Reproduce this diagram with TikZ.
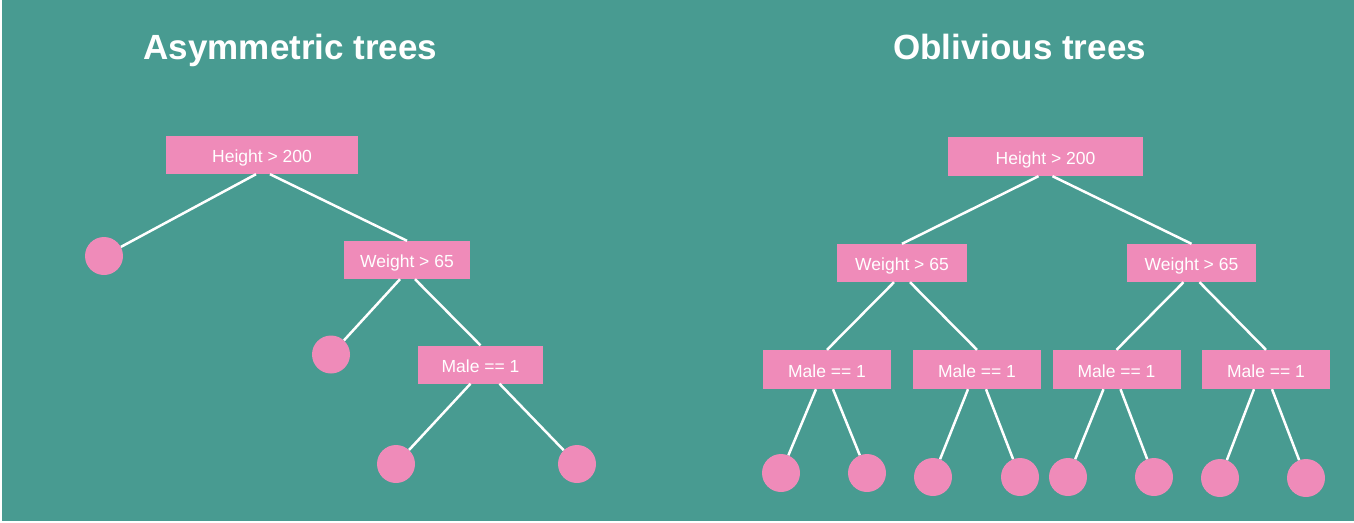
\documentclass[tikz,border=0pt]{standalone}
\usepackage{fontspec}
\setmainfont{Liberation Sans}
\usetikzlibrary{positioning}
\definecolor{TreeTeal}{RGB}{72,155,145}
\definecolor{TreePink}{RGB}{239,139,185}

\begin{document}
\begin{tikzpicture}[x=1pt, y=-1pt,
    split/.style={rectangle, fill=TreePink, text=white, minimum height=38pt, inner sep=0pt, text height=15.5pt, text depth=0pt, font=\fontsize{17.5}{20}\selectfont},
    leaf/.style={circle, fill=TreePink, minimum size=38pt, inner sep=0pt},
    branch/.style={draw=white, line width=2.5pt},
    title/.style={anchor=base, text=white, inner sep=0pt, font=\fontsize{35}{40}\selectfont\bfseries}]
    \fill[white] (0,0) rectangle (1354,522);
    \useasboundingbox (0,0) rectangle (1354,522);
    \fill[TreeTeal] (2,0) rectangle (1354,521);

    \node[title] (asym) at (290.5,59) {Asymmetric trees};
    \node[title] (obli) at (1019.5,59) {Oblivious trees};

    \node[split, minimum width=192pt] (h1) at (262,155) {Height > 200};
    \node[split, minimum width=126pt] (w1) at (407,260) {Weight > 65};
    \node[split, minimum width=125pt] (m1) at (480.5,364.5) {Male == 1};
    \node[leaf] (a1) at (104,256) {};
    \node[leaf] (a2) at (331,354.5) {};
    \node[leaf] (a3) at (396,464) {};
    \node[leaf] (a4) at (577,464) {};
    \draw[branch] ([xshift=-6pt]h1.south) -- (a1);
    \draw[branch] ([xshift=8pt]h1.south) -- (w1.north);
    \draw[branch] ([xshift=-7pt]w1.south) -- (a2);
    \draw[branch] ([xshift=8pt]w1.south) -- (m1.north);
    \draw[branch] ([xshift=-10pt]m1.south) -- (a3);
    \draw[branch] ([xshift=19pt]m1.south) -- (a4);

    \node[split, minimum width=195pt, minimum height=39pt] (h2) at (1045.5,156.5) {Height > 200};
    \node[split, minimum width=130pt] (w2) at (902,263) {Weight > 65};
    \node[split, minimum width=129pt] (w3) at (1191.5,263) {Weight > 65};
    \node[split, minimum width=128pt, minimum height=39pt] (m2) at (827,369.5) {Male == 1};
    \node[split, minimum width=128pt, minimum height=39pt] (m3) at (977,369.5) {Male == 1};
    \node[split, minimum width=128pt, minimum height=39pt] (m4) at (1116.5,369.5) {Male == 1};
    \node[split, minimum width=128pt, minimum height=39pt] (m5) at (1266,369.5) {Male == 1};
    \node[leaf] (b1) at (781,473) {};
    \node[leaf] (b2) at (867,473) {};
    \node[leaf] (b3) at (933,477) {};
    \node[leaf] (b4) at (1020,477) {};
    \node[leaf] (b5) at (1068,477) {};
    \node[leaf] (b6) at (1154,477) {};
    \node[leaf] (b7) at (1220,478) {};
    \node[leaf] (b8) at (1306,478) {};
    \draw[branch] ([xshift=-7pt]h2.south) -- (w2.north);
    \draw[branch] ([xshift=7pt]h2.south) -- (w3.north);
    \draw[branch] ([xshift=-8pt]w2.south) -- (m2.north);
    \draw[branch] ([xshift=8pt]w2.south) -- (m3.north);
    \draw[branch] ([xshift=-8pt]w3.south) -- (m4.north);
    \draw[branch] ([xshift=8pt]w3.south) -- (m5.north);
    \draw[branch] ([xshift=-11pt]m2.south) -- (b1);
    \draw[branch] ([xshift=6pt]m2.south) -- (b2);
    \draw[branch] ([xshift=-9pt]m3.south) -- (b3);
    \draw[branch] ([xshift=9pt]m3.south) -- (b4);
    \draw[branch] ([xshift=-13pt]m4.south) -- (b5);
    \draw[branch] ([xshift=4pt]m4.south) -- (b6);
    \draw[branch] ([xshift=-12pt]m5.south) -- (b7);
    \draw[branch] ([xshift=6pt]m5.south) -- (b8);
\end{tikzpicture}
\end{document}
